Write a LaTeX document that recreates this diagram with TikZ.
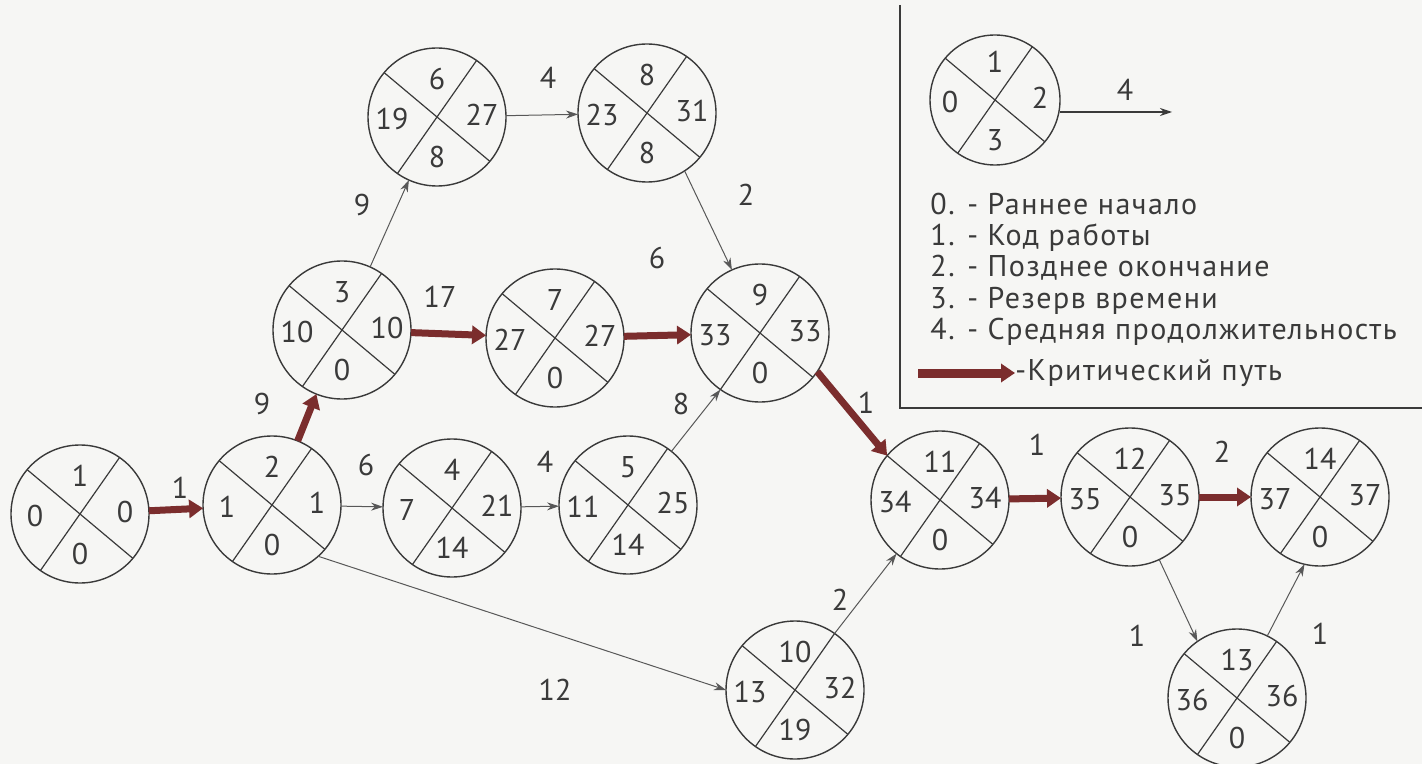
\documentclass[tikz,border=0pt]{standalone}
\usepackage{fontspec}
\setmainfont{PT Sans}
\usetikzlibrary{arrows.meta,calc}
\definecolor{crit}{HTML}{7B2D2D}
\definecolor{ink}{HTML}{3A3A3A}
\definecolor{paper}{HTML}{F6F6F4}
\tikzset{
  ev/.style={circle,draw=ink,line width=0.7pt,minimum size=69pt,inner sep=0pt,outer sep=0pt},
  evsmall/.style={ev,minimum size=65pt},
  div/.style={draw=ink,line width=0.6pt},
  num/.style={font=\fontsize{15}{15}\selectfont,text=ink,inner sep=0pt},
  lab/.style={num},
  thinarr/.style={draw=ink!85,line width=0.5pt,-{Stealth[length=6pt,width=4pt]}},
  critarr/.style={draw=crit,line width=3.5pt,-{Triangle[length=7pt,width=9pt]}},
  legtext/.style={font=\fontsize{15}{15}\selectfont\addfontfeature{LetterSpace=5},text=ink,inner sep=0pt,anchor=base west},
}
\newcommand{\netnode}[8][ev]{%
  \node[#1] (#2) at (#3,#4) {};
  \draw[div] (#2.140) -- (#2.-40);
  \draw[div] (#2.55) -- (#2.235);
  \node[num] (#2-t) at ($(#2)+(0,-38)$) {#5};
  \node[num] (#2-l) at ($(#2)+(-45,2)$) {#6};
  \node[num] (#2-r) at ($(#2)+(45,-2)$) {#7};
  \node[num] (#2-b) at ($(#2)+(0,40)$) {#8};
}
\begin{document}
\begin{tikzpicture}[x=0.5pt,y=-0.5pt]
\fill[paper] (0,0) rectangle (1422,764);
\useasboundingbox (0,0) rectangle (1422,764);

% events
\netnode{n1}{80}{514}{1}{0}{0}{0}
\netnode{n2}{272}{505}{2}{1}{1}{0}
\netnode{n4}{452}{508}{4}{7}{21}{14}
\netnode{n5}{628}{505}{5}{11}{25}{14}
\netnode{n3}{342}{330}{3}{10}{10}{0}
\netnode{n6}{437}{117}{6}{19}{27}{8}
\netnode{n8}{647}{113}{8}{23}{31}{8}
\netnode{n7}{555}{338}{7}{27}{27}{0}
\netnode{n9}{760}{333}{9}{33}{33}{0}
\netnode{n11}{940}{500}{11}{34}{34}{0}
\netnode{n12}{1130}{497}{12}{35}{35}{0}
\netnode{n14}{1320}{497}{14}{37}{37}{0}
\netnode{n10}{795}{690}{10}{13}{32}{19}
\netnode{n13}{1237}{698}{13}{36}{36}{0}

% critical path
\draw[critarr] (n1) -- (n2);
\draw[critarr] (n2) -- (n3);
\draw[critarr] (n3) -- (n7);
\draw[critarr] (n7) -- (n9);
\draw[critarr] (n9.-34) -- (n11.140);
\draw[critarr] (n11) -- (n12);
\draw[critarr] (n12) -- (n14);

% other works
\draw[thinarr] (n2) -- (n4);
\draw[thinarr] (n4) -- (n5);
\draw[thinarr] (n5.51) -- (n9.235);
\draw[thinarr] (n2.-48) -- (n10.180);
\draw[thinarr] (n3) -- (n6);
\draw[thinarr] (n6) -- (n8);
\draw[thinarr] (n8.-57) -- (n9.114);
\draw[thinarr] (n10.55) -- (n11.231);
\draw[thinarr] (n12.-65) -- (n13.125);
\draw[thinarr] (n13.64) -- (n14.257);

% durations
\node[lab] (d12) at (180,488) {1};
\node[lab] (d23) at (262,404) {9};
\node[lab] (d24) at (366,465) {6};
\node[lab] (d210) at (555,690) {12};
\node[lab] (d45) at (545,462) {4};
\node[lab] (d59) at (681,404) {8};
\node[lab] (d36) at (362,205) {9};
\node[lab] (d37) at (440,297) {17};
\node[lab] (d68) at (548,78) {4};
\node[lab] (d89) at (746,195) {2};
\node[lab] (d79) at (657,258) {6};
\node[lab] (d911) at (866,403) {1};
\node[lab] (d1112) at (1037,445) {1};
\node[lab] (d1214) at (1222,452) {2};
\node[lab] (d1213) at (1137,636) {1};
\node[lab] (d1314) at (1320,634) {1};
\node[lab] (d1011) at (840,600) {2};

% legend frame
\coordinate (fa) at (900,5);
\coordinate (fb) at (900,408);
\coordinate (fc) at (1422,408);
\draw[ink,line width=0.9pt] (fa) -- (fb) -- (fc);

% legend
\netnode[evsmall]{lg}{995}{100}{1}{0}{2}{3}
\coordinate (lgend) at (1172,112);
\draw[thinarr,draw=ink,line width=0.7pt] (lg.east |- lgend) -- (lgend);
\node[lab] (lg4) at (1125,90) {4};
\node[legtext] (t0) at (930,215) {0. - Раннее начало};
\node[legtext] (t1) at (930,246) {1. - Код работы};
\node[legtext] (t2) at (930,277) {2. - Позднее окончание};
\node[legtext] (t3) at (930,308) {3. - Резерв времени};
\node[legtext] (t4) at (930,339) {4. - Средняя продолжительность};
\coordinate (ca) at (918,373);
\node[legtext,anchor=west] (tc) at (1015,373) {-Критический путь};
\draw[critarr,line width=4.5pt] (ca) -- (tc.west);
\end{tikzpicture}
\end{document}
